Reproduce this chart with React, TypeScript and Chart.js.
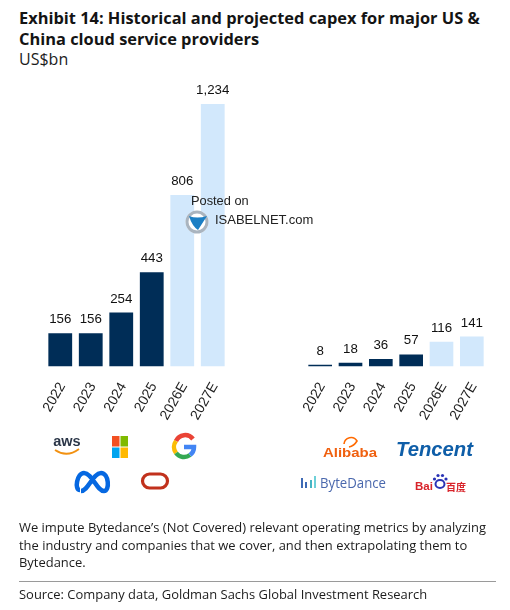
import React, { useEffect, useRef } from "react";
import { Chart, registerables } from "chart.js";

Chart.register(...registerables);

const usYears = ["2022", "2023", "2024", "2025", "2026E", "2027E"];
const chinaYears = ["2022", "2023", "2024", "2025", "2026E", "2027E"];
const usValues = [156, 156, 254, 443, 806, 1234];
const chinaValues = [8, 18, 36, 57, 116, 141];

const NAVY = "#002d57";
const LIGHT = "#d2e8fc";
const BODY = "'Open Sans', sans-serif";
const GUTTER = 30;

const labelPlugin = {
  id: "valueLabels",
  afterDatasetsDraw(chart: any) {
    const { ctx } = chart;
    const meta = chart.getDatasetMeta(0);
    ctx.save();
    ctx.font = "13.3px 'Liberation Sans'";
    ctx.fillStyle = "#111";
    ctx.textAlign = "center";
    ctx.textBaseline = "alphabetic";
    meta.data.forEach((el: any, i: number) => {
      const v = chart.data.datasets[0].data[i] as number;
      const y = chart.scales.y.getPixelForValue(v);
      ctx.fillText(v.toLocaleString("en-US"), el.x, y - 10);
    });
    ctx.restore();
  },
};

function BarPanel({ years, values, left, width }: any) {
  const ref = useRef<HTMLCanvasElement>(null);
  useEffect(() => {
    const chart = new Chart(ref.current!, {
      type: "bar",
      data: {
        labels: years,
        datasets: [
          {
            data: values,
            backgroundColor: years.map((y: string) => (y.endsWith("E") ? LIGHT : NAVY)),
            categoryPercentage: 1,
            barPercentage: 0.78,
          },
        ],
      },
      options: {
        animation: false,
        responsive: false,
        layout: { padding: { left: GUTTER, right: GUTTER } },
        plugins: {
          legend: { display: false },
          tooltip: { enabled: false },
        },
        scales: {
          x: {
            grid: { display: false, drawTicks: false },
            border: { display: false },
            afterFit(s: any) {
              s.paddingLeft = 0;
              s.paddingRight = 0;
            },
            ticks: {
              autoSkip: false,
              minRotation: 60,
              maxRotation: 60,
              padding: 13,
              labelOffset: 2,
              color: "#222",
              font: { family: "'Liberation Sans'", size: 14 },
            },
          },
          y: { display: false, min: 0, max: 1394 },
        },
      },
      plugins: [labelPlugin],
    } as any);
    return () => chart.destroy();
  }, []);
  return (
    <canvas
      ref={ref}
      width={width + GUTTER * 2}
      height={366}
      style={{ position: "absolute", left: left - GUTTER, top: 70, width: width + GUTTER * 2, height: 366 }}
    />
  );
}

function Logos() {
  return (
    <svg width={510} height={610} style={{ position: "absolute", left: 0, top: 0, pointerEvents: "none" }}>
      {/* watermark */}
      <text x={191} y={205} fontFamily="'Liberation Sans'" fontSize={12.8} fill="#222">Posted on</text>
      <text x={215} y={224} fontFamily="'Liberation Sans'" fontSize={13} fill="#222">ISABELNET.com</text>
      <circle cx={197} cy={222} r={11.5} fill="#fff" />
      <circle cx={197} cy={222} r={10} fill="none" stroke="#a9b4bf" strokeWidth={3} />
      <path d="M189 216 Q197 219 207 216 L198 230 Q192 226 189 216 Z" fill="#1c7fc4" />

      {/* aws */}
      <text x={67} y={446} textAnchor="middle" fontFamily="'Liberation Sans'" fontWeight={700} fontSize={14.5} fill="#2b3648">aws</text>
      <path d="M55 450 Q67 458 79 449" fill="none" stroke="#f29111" strokeWidth={1.8} />
      {/* microsoft */}
      <rect x={112} y={436} width={7.5} height={10.5} fill="#f25022" />
      <rect x={120.5} y={436} width={7.5} height={10.5} fill="#7fba00" />
      <rect x={112} y={447.5} width={7.5} height={10.5} fill="#00a4ef" />
      <rect x={120.5} y={447.5} width={7.5} height={10.5} fill="#ffb900" />
      {/* google */}
      <path d="M193 439 A10 10 0 0 0 176 441" fill="none" stroke="#ea4335" strokeWidth={4.5} />
      <path d="M176 441 A10 10 0 0 0 176 453" fill="none" stroke="#fbbc05" strokeWidth={4.5} />
      <path d="M176 453 A10 10 0 0 0 190 455" fill="none" stroke="#34a853" strokeWidth={4.5} />
      <path d="M190 455 A10 10 0 0 0 194 447 L184 447" fill="none" stroke="#4285f4" strokeWidth={4.5} />
      {/* meta */}
      <path
        d="M80 490 C74 490 77 473 84 473 C92 473 97 491 104 491 C110 491 109 473 101 473 C93 473 88 491 81 491"
        fill="none"
        stroke="#0668e1"
        strokeWidth={4.5}
      />
      {/* oracle */}
      <rect x={142.5} y={474} width={25} height={14} rx={7} fill="none" stroke="#c1311c" strokeWidth={3.2} />

      {/* alibaba */}
      <path d="M344 444 A7 7 0 0 1 357 441 Q354 446 349 447" fill="none" stroke="#ff6a00" strokeWidth={1.6} />
      <text x={323} y={457} textLength={54} lengthAdjust="spacingAndGlyphs" fontFamily="'Liberation Sans'" fontWeight={700} fontSize={12.5} fill="#f0600f">Alibaba</text>
      {/* tencent */}
      <text x={396} y={456} textLength={77} lengthAdjust="spacingAndGlyphs" fontFamily="'Liberation Sans'" fontWeight={700} fontStyle="italic" fontSize={20} fill="#0f5ea8">Tencent</text>
      {/* bytedance */}
      <rect x={301} y={478} width={2} height={10} fill="#3e6ab5" />
      <rect x={305} y={482} width={2} height={6} fill="#3e6ab5" />
      <rect x={310} y={480} width={2} height={8} fill="#45b5c4" />
      <rect x={314} y={476} width={2} height={12} fill="#6ed0d8" />
      <text x={320} y={488} textLength={66} lengthAdjust="spacingAndGlyphs" fontFamily="'Open Sans'" fontSize={14} fill="#4a68ad">ByteDance</text>
      {/* baidu */}
      <text x={415} y={490} fontFamily="'Liberation Sans'" fontWeight={700} fontSize={11.5} fill="#d8232a">Bai</text>
      <ellipse cx={440} cy={484} rx={4.5} ry={4} fill="none" stroke="#2932b5" strokeWidth={2} />
      <circle cx={434.5} cy={479} r={1.6} fill="#2932b5" />
      <circle cx={438} cy={475.5} r={1.6} fill="#2932b5" />
      <circle cx={442.5} cy={475.5} r={1.6} fill="#2932b5" />
      <circle cx={446} cy={479} r={1.6} fill="#2932b5" />
      <text x={446} y={491} fontFamily="'Noto Sans CJK SC'" fontWeight={700} fontSize={10} fill="#d8232a">百度</text>
    </svg>
  );
}

const textStyle = (top: number, size: number, weight = 400, color = "#1c1c1c"): React.CSSProperties => ({
  position: "absolute",
  left: 19,
  top,
  fontFamily: BODY,
  fontSize: size,
  fontWeight: weight,
  color,
  whiteSpace: "nowrap",
});

export default function App() {
  return (
    <div style={{ position: "absolute", left: 0, top: 0, width: 510, height: 610, background: "#fff", overflow: "hidden" }}>
      <div style={{ ...textStyle(7, 16.4, 700, "#141414"), lineHeight: "21px" }}>
        Exhibit 14: Historical and projected capex for major US &amp;
        <br />
        China cloud service providers
      </div>
      <div style={textStyle(48, 16)}>US$bn</div>
      <BarPanel years={usYears} values={usValues} left={44.7} width={183.6} />
      <BarPanel years={chinaYears} values={chinaValues} left={304.8} width={182.4} />
      <Logos />
      <div style={{ ...textStyle(519, 12.95), lineHeight: "17.7px" }}>
        We impute Bytedance’s (Not Covered) relevant operating metrics by analyzing
        <br />
        the industry and companies that we cover, and then extrapolating them to
        <br />
        Bytedance.
      </div>
      <div style={{ position: "absolute", left: 19, top: 580.5, width: 477, height: 1, background: "#9a9a9a" }} />
      <div style={textStyle(585, 12.95)}>Source: Company data, Goldman Sachs Global Investment Research</div>
    </div>
  );
}
